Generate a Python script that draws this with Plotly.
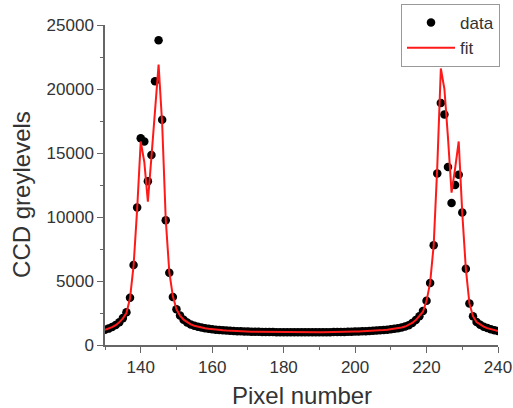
import plotly.graph_objects as go

pixels = list(range(130, 241))

data_values = [
    1200, 1280, 1400, 1560, 1780, 2100, 2550, 3700, 6250, 10750,   # 130-139
    16150, 15900, 12800, 14850, 20600, 23800, 17600, 9750, 5650, 3750,  # 140-149
    2800, 2300, 1980, 1760, 1610, 1500, 1420, 1360, 1310, 1270,    # 150-159
    1230, 1200, 1175, 1150, 1130, 1110, 1095, 1080, 1070, 1060,    # 160-169
    1050, 1040, 1035, 1030, 1025, 1020, 1015, 1010, 1005, 1000,    # 170-179
    1000, 995, 995, 990, 990, 990, 990, 990, 990, 995,             # 180-189
    995, 1000, 1000, 1005, 1010, 1015, 1020, 1025, 1030, 1040,     # 190-199
    1050, 1060, 1070, 1080, 1095, 1110, 1130, 1150, 1175, 1200,    # 200-209
    1230, 1270, 1310, 1370, 1440, 1550, 1720, 1950, 2250, 2650,    # 210-219
    3450, 4850, 7800, 13400, 18900, 18000, 13900, 11100, 12500, 13300,  # 220-229
    10350, 5950, 3250, 2250, 1800, 1580, 1430, 1320, 1230, 1160,   # 230-239
    1100,                                                          # 240
]

fit_values = [
    1180, 1270, 1390, 1550, 1770, 2080, 2500, 3650, 6200, 10600,   # 130-139
    15900, 14300, 11200, 14700, 18600, 21900, 17300, 9800, 5700, 3800,  # 140-149
    2800, 2300, 1980, 1760, 1610, 1500, 1420, 1360, 1310, 1270,    # 150-159
    1230, 1200, 1175, 1150, 1130, 1110, 1095, 1080, 1070, 1060,    # 160-169
    1050, 1040, 1035, 1030, 1025, 1020, 1015, 1010, 1005, 1000,    # 170-179
    1000, 995, 995, 990, 990, 990, 990, 990, 990, 995,             # 180-189
    995, 1000, 1000, 1005, 1010, 1015, 1020, 1025, 1030, 1040,     # 190-199
    1050, 1060, 1070, 1080, 1095, 1110, 1130, 1150, 1175, 1200,    # 200-209
    1230, 1270, 1310, 1370, 1440, 1550, 1720, 1950, 2250, 2600,    # 210-219
    3450, 4850, 7800, 13900, 21600, 20000, 16200, 11900, 13800, 15900,  # 220-229
    10300, 5950, 3250, 2250, 1800, 1580, 1430, 1320, 1230, 1160,   # 230-239
    1100,                                                          # 240
]

x_tick_values = [140, 160, 180, 200, 220, 240]
x_tick_labels = ["140", "160", "180", "200", "220", "240"]
y_tick_values = [0, 5000, 10000, 15000, 20000, 25000]
y_tick_labels = ["0", "5000", "10000", "15000", "20000", "25000"]

FONT = "Liberation Sans, Arial, sans-serif"
AXIS_COLOR = "#666666"
TEXT_COLOR = "#333333"

fig = go.Figure()
fig.add_trace(go.Scatter(
    x=pixels, y=data_values, mode="markers", name="data",
    marker=dict(color="black", size=8.5),
))
fig.add_trace(go.Scatter(
    x=pixels, y=fit_values, mode="lines", name="fit",
    line=dict(color="#ff1a1a", width=2),
))

axis_common = dict(
    showline=True, linecolor=AXIS_COLOR, linewidth=1.5,
    ticks="outside", ticklen=6, tickwidth=1.2, tickcolor=AXIS_COLOR,
    showgrid=False, zeroline=False, automargin=False,
    tickfont=dict(family=FONT, size=17, color=TEXT_COLOR),
)

fig.update_xaxes(
    range=[130, 240], tickvals=x_tick_values, ticktext=x_tick_labels,
    minor=dict(ticks="outside", ticklen=3, tickcolor=AXIS_COLOR, dtick=10, tick0=130),
    **axis_common,
)
fig.update_yaxes(
    range=[0, 25000], tickvals=y_tick_values, ticktext=y_tick_labels,
    minor=dict(ticks="outside", ticklen=3, tickcolor=AXIS_COLOR, dtick=2500, tick0=0),
    **axis_common,
)

fig.update_layout(
    width=513, height=408,
    margin=dict(l=105, r=15, t=25, b=63, autoexpand=False),
    plot_bgcolor="white", paper_bgcolor="white",
    font=dict(family=FONT, color=TEXT_COLOR),
    showlegend=True,
    legend=dict(
        xref="container", yref="container",
        x=500 / 513, y=1 - 4 / 408, xanchor="right", yanchor="top",
        bgcolor="white", bordercolor="#999999", borderwidth=1,
        font=dict(family=FONT, size=17, color=TEXT_COLOR),
        itemwidth=48, tracegroupgap=0,
    ),
    annotations=[
        dict(text="Pixel number", xref="paper", yref="paper",
             x=0.5, y=-0.158, xanchor="center", yanchor="middle",
             showarrow=False, font=dict(family=FONT, size=24, color=TEXT_COLOR)),
        dict(text="CCD greylevels", xref="paper", yref="paper",
             x=-0.213, y=0.47, xanchor="center", yanchor="middle", textangle=-90,
             showarrow=False, font=dict(family=FONT, size=24, color=TEXT_COLOR)),
    ],
)

fig.write_html("out.html", config={"displayModeBar": False},
               post_script="document.body.style.margin='0';")
